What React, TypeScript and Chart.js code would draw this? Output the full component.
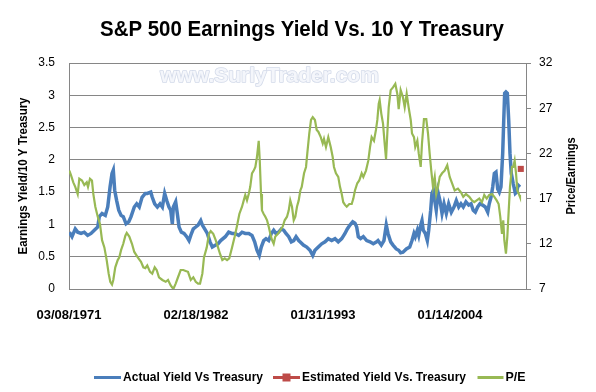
import { useEffect, useRef } from 'react';
import { Chart, registerables } from 'chart.js';

Chart.register(...registerables);

const TITLE = 'S&P 500 Earnings Yield Vs. 10 Y Treasury';
const WATERMARK = 'www.SurlyTrader.com';
const LEFT_TITLE = 'Earnings Yield/10 Y Treasury';
const RIGHT_TITLE = 'Price/Earnings';

const SERIES_NAMES = ['Actual Yield Vs Treasury', 'Estimated Yield Vs. Treasury', 'P/E'];
const SERIES_COLORS = ['#4A7EBB', '#BE4B48', '#98B954'];

const TICK_YEARS = [1971.18, 1982.13, 1993.08, 2004.04];
const TICK_LABELS = ['03/08/1971', '02/18/1982', '01/31/1993', '01/14/2004'];
const X_MIN = 1971.18;
const X_MAX = 2010.59;

const ACTUAL_YEARS = [
  1971.21, 1971.44, 1971.72, 1971.93, 1972.22, 1972.5, 1972.79, 1973.08, 1973.36, 1973.66,
  1973.79, 1974.03, 1974.31, 1974.52, 1974.72, 1974.89, 1975.0, 1975.12, 1975.29, 1975.47,
  1975.67, 1975.86, 1976.1, 1976.33, 1976.53, 1976.81, 1977.02, 1977.24, 1977.48, 1977.76,
  1977.93, 1978.23, 1978.36, 1978.57, 1978.8, 1979.03, 1979.23, 1979.43, 1979.61, 1979.8,
  1979.95, 1980.09, 1980.18, 1980.38, 1980.52, 1980.67, 1980.87, 1981.1, 1981.33, 1981.53,
  1981.68, 1981.9, 1982.11, 1982.31, 1982.54, 1982.68, 1982.88, 1983.11, 1983.34, 1983.54,
  1983.83, 1984.03, 1984.26, 1984.66, 1984.95, 1985.24, 1985.52, 1985.81, 1986.1, 1986.38,
  1986.68, 1986.96, 1987.19, 1987.39, 1987.59, 1987.76, 1987.97, 1988.17, 1988.4, 1988.63,
  1988.83, 1989.03, 1989.26, 1989.49, 1989.7, 1989.89, 1990.13, 1990.35, 1990.56, 1990.76,
  1990.99, 1991.1, 1991.39, 1991.68, 1991.96, 1992.2, 1992.39, 1992.68, 1992.97, 1993.26,
  1993.54, 1993.83, 1994.12, 1994.4, 1994.7, 1994.98, 1995.18, 1995.41, 1995.65, 1995.84,
  1995.99, 1996.13, 1996.33, 1996.56, 1996.85, 1997.14, 1997.42, 1997.71, 1997.83, 1998.11,
  1998.34, 1998.54, 1998.69, 1998.92, 1999.12, 1999.4, 1999.61, 1999.78, 1999.98, 2000.27,
  2000.56, 2000.76, 2000.93, 2001.04, 2001.22, 2001.34, 2001.51, 2001.62, 2001.73, 2001.91,
  2002.08, 2002.2, 2002.37, 2002.48, 2002.6, 2002.72, 2002.85, 2003.0, 2003.17, 2003.35,
  2003.52, 2003.72, 2003.92, 2004.15, 2004.38, 2004.58, 2004.79, 2004.98, 2005.18, 2005.41,
  2005.65, 2005.85, 2006.04, 2006.22, 2006.42, 2006.62, 2006.85, 2007.08, 2007.29, 2007.42,
  2007.57, 2007.72, 2007.86, 2008.0, 2008.15, 2008.29, 2008.43, 2008.58, 2008.67, 2008.75,
  2008.86, 2008.98, 2009.1, 2009.21, 2009.32, 2009.49, 2009.67, 2009.79, 2009.9, 2010.07,
];
const ACTUAL_VALUES = [
  0.88, 0.81, 0.93, 0.88, 0.86, 0.88, 0.83, 0.86, 0.91, 0.96,
  1.12, 1.17, 1.14, 1.27, 1.58, 1.79, 1.84, 1.53, 1.37, 1.22,
  1.14, 1.12, 1.01, 1.04, 1.12, 1.27, 1.32, 1.27, 1.42, 1.48,
  1.48, 1.5, 1.42, 1.32, 1.27, 1.32, 1.27, 1.48, 1.37, 1.27,
  1.22, 1.01, 1.27, 1.35, 1.17, 0.96, 0.88, 0.86, 0.81, 0.75,
  0.83, 0.93, 0.96, 0.99, 1.06, 0.99, 0.93, 0.86, 0.73, 0.65,
  0.68, 0.7, 0.75, 0.81, 0.88, 0.86, 0.86, 0.83, 0.88, 0.86,
  0.86, 0.83, 0.73, 0.6, 0.52, 0.65, 0.75, 0.78, 0.75, 0.86,
  0.91, 0.86, 0.88, 0.93, 0.91, 0.86, 0.81, 0.73, 0.75, 0.81,
  0.75, 0.73, 0.68, 0.65, 0.6, 0.52, 0.6, 0.65, 0.7, 0.73,
  0.78, 0.75, 0.78, 0.73, 0.78, 0.86, 0.93, 0.99, 1.04, 1.02,
  0.96, 0.81, 0.78, 0.81, 0.75, 0.73, 0.7, 0.73, 0.75, 0.68,
  0.75, 0.99, 0.86, 0.73, 0.68, 0.62, 0.6, 0.56, 0.57, 0.62,
  0.65, 0.75, 0.86, 0.81, 0.91, 0.83, 0.99, 1.06, 0.91, 0.86,
  0.75, 0.91, 1.22, 1.48, 1.53, 1.37, 1.22, 1.5, 1.37, 1.17,
  1.32, 1.17, 1.32, 1.19, 1.27, 1.37, 1.27, 1.32, 1.27, 1.35,
  1.3, 1.32, 1.22, 1.19, 1.27, 1.32, 1.3, 1.27, 1.19, 1.32,
  1.42, 1.58, 1.79, 1.81, 1.55, 1.5, 1.58, 2.1, 2.61, 3.03,
  3.05, 3.03, 2.61, 2.1, 1.79, 1.63, 1.48, 1.5, 1.61, 1.58,
];

const ESTIMATED_YEARS = [2010.14];
const ESTIMATED_VALUES = [1.86];

const PE_YEARS = [
  1971.21, 1971.35, 1971.55, 1971.72, 1971.93, 1972.07, 1972.3, 1972.5, 1972.71, 1972.82,
  1972.99, 1973.16, 1973.28, 1973.45, 1973.66, 1973.85, 1974.03, 1974.23, 1974.43, 1974.6,
  1974.74, 1974.89, 1975.0, 1975.17, 1975.38, 1975.52, 1975.67, 1975.86, 1976.04, 1976.16,
  1976.38, 1976.61, 1976.81, 1977.11, 1977.39, 1977.59, 1977.76, 1977.93, 1978.17, 1978.36,
  1978.57, 1978.74, 1978.94, 1979.23, 1979.52, 1979.72, 1979.95, 1980.18, 1980.38, 1980.58,
  1980.81, 1981.04, 1981.24, 1981.44, 1981.68, 1981.9, 1982.11, 1982.31, 1982.48, 1982.68,
  1982.82, 1983.06, 1983.25, 1983.4, 1983.62, 1983.83, 1984.03, 1984.2, 1984.4, 1984.61,
  1984.81, 1985.0, 1985.24, 1985.47, 1985.67, 1985.87, 1986.1, 1986.25, 1986.38, 1986.53,
  1986.68, 1986.81, 1986.96, 1987.11, 1987.25, 1987.39, 1987.54, 1987.63, 1987.74, 1987.82,
  1987.97, 1988.11, 1988.26, 1988.4, 1988.54, 1988.69, 1988.83, 1988.97, 1989.2, 1989.4,
  1989.61, 1989.78, 1989.98, 1990.13, 1990.26, 1990.41, 1990.56, 1990.7, 1990.84, 1990.99,
  1991.13, 1991.25, 1991.45, 1991.62, 1991.73, 1991.9, 1992.05, 1992.2, 1992.39, 1992.54,
  1992.68, 1992.89, 1993.06, 1993.17, 1993.34, 1993.54, 1993.75, 1993.92, 1994.03, 1994.2,
  1994.4, 1994.55, 1994.7, 1994.83, 1994.98, 1995.13, 1995.35, 1995.56, 1995.7, 1995.84,
  1996.04, 1996.21, 1996.42, 1996.56, 1996.79, 1996.99, 1997.14, 1997.28, 1997.48, 1997.65,
  1997.77, 1997.89, 1997.97, 1998.11, 1998.26, 1998.4, 1998.52, 1998.63, 1998.75, 1998.92,
  1999.12, 1999.32, 1999.49, 1999.61, 1999.78, 1999.98, 2000.13, 2000.3, 2000.47, 2000.65,
  2000.76, 2000.93, 2001.04, 2001.22, 2001.34, 2001.51, 2001.62, 2001.79, 2001.99, 2002.14,
  2002.28, 2002.42, 2002.57, 2002.72, 2002.85, 2003.0, 2003.15, 2003.35, 2003.58, 2003.8,
  2004.01, 2004.21, 2004.44, 2004.72, 2004.98, 2005.18, 2005.41, 2005.7, 2005.93, 2006.13,
  2006.34, 2006.56, 2006.79, 2006.99, 2007.2, 2007.42, 2007.66, 2007.86, 2008.06, 2008.23,
  2008.37, 2008.52, 2008.63, 2008.72, 2008.86, 2008.98, 2009.1, 2009.21, 2009.38, 2009.49,
  2009.61, 2009.73, 2009.84, 2010.01, 2010.07,
];
const PE_VALUES = [
  20.1, 19.6, 18.8, 18.3, 17.5, 19.2, 19.0, 18.5, 18.8, 18.3,
  19.2, 19.0, 17.5, 16.1, 15.0, 14.2, 12.4, 11.6, 10.2, 8.7,
  7.8, 7.5, 8.0, 9.4, 10.2, 10.5, 11.3, 12.0, 12.9, 13.2,
  12.8, 12.0, 11.1, 10.5, 10.0, 9.4, 9.3, 9.6, 8.9, 8.7,
  9.4, 9.1, 8.3, 8.0, 7.8, 8.0, 7.4, 7.0, 7.6, 8.3,
  9.1, 9.1, 9.0, 8.9, 8.0, 8.3, 7.8, 7.6, 7.6, 8.7,
  10.5, 11.6, 13.1, 13.4, 13.1, 12.4, 11.6, 10.9, 10.2, 10.4,
  10.2, 10.4, 11.6, 12.8, 14.0, 15.3, 16.1, 16.8, 17.4, 16.8,
  17.5, 18.3, 19.8, 20.1, 20.5, 21.6, 23.4, 21.2, 17.5, 15.7,
  15.3, 15.0, 14.6, 13.9, 13.1, 12.4, 12.0, 12.8, 13.1, 13.5,
  13.9, 14.6, 15.0, 15.7, 16.8, 16.1, 14.6, 15.0, 16.1, 16.8,
  17.9, 18.3, 19.8, 20.5, 22.0, 24.2, 25.7, 26.0, 25.7, 24.6,
  24.4, 23.8, 23.1, 23.6, 22.7, 23.8, 22.7, 21.6, 20.5, 19.8,
  19.4, 18.3, 17.5, 16.6, 16.3, 16.1, 16.4, 16.4, 17.0, 17.9,
  18.7, 19.0, 19.8, 19.4, 20.1, 21.2, 22.7, 23.8, 23.4, 24.6,
  25.7, 27.5, 27.9, 26.4, 25.3, 23.1, 21.4, 24.2, 27.1, 29.0,
  29.3, 29.7, 28.6, 26.9, 29.0, 28.2, 27.1, 28.6, 27.1, 25.7,
  24.2, 23.8, 22.7, 23.4, 22.0, 20.5, 23.1, 25.8, 25.8, 24.2,
  22.0, 20.1, 18.3, 19.4, 17.5, 18.3, 19.4, 19.8, 20.1, 20.7,
  19.4, 18.7, 17.9, 18.1, 17.7, 17.2, 17.5, 17.2, 16.8, 16.6,
  16.8, 17.0, 16.6, 17.4, 17.0, 17.4, 17.5, 17.2, 16.8, 16.4,
  15.0, 13.1, 14.6, 12.4, 10.9, 12.8, 15.7, 18.3, 20.5, 20.5,
  21.2, 19.8, 17.9, 17.4, 17.2,
];

const LEFT_MIN = 0;
const LEFT_MAX = 3.5;
const LEFT_STEP = 0.5;
const RIGHT_MIN = 7;
const RIGHT_MAX = 32;
const RIGHT_STEP = 5;

const FONT = '"Liberation Sans", Arial, sans-serif';
const AXIS_GRAY = '#868686';

const toPoints = (xs: number[], ys: number[]) => xs.map((x, i) => ({ x, y: ys[i] }));

const overlayPlugin = {
  id: 'overlay',
  beforeDatasetsDraw(chart: any) {
    const { ctx, chartArea } = chart;
    ctx.save();
    ctx.font = `bold 21px ${FONT}`;
    ctx.textAlign = 'center';
    ctx.textBaseline = 'alphabetic';
    ctx.lineJoin = 'round';
    ctx.lineWidth = 1.6;
    ctx.strokeStyle = '#d3dae9';
    ctx.fillStyle = '#f4f6fb';
    const wx = chartArea.left + 200.5;
    const wy = chartArea.top + 19;
    ctx.strokeText(WATERMARK, wx, wy, 225);
    ctx.fillText(WATERMARK, wx, wy, 225);
    ctx.restore();
  },
  afterDraw(chart: any) {
    const { ctx, chartArea } = chart;
    ctx.save();
    ctx.fillStyle = '#000000';
    // title
    ctx.font = `bold 22px ${FONT}`;
    ctx.textAlign = 'center';
    ctx.textBaseline = 'alphabetic';
    ctx.fillText(TITLE, 302, 36, 404);

    // axis titles
    const midY = (chartArea.top + chartArea.bottom) / 2;
    ctx.font = `bold 12px ${FONT}`;
    ctx.textBaseline = 'middle';
    ctx.save();
    ctx.translate(24, midY);
    ctx.rotate(-Math.PI / 2);
    ctx.fillText(LEFT_TITLE, 0, 0, 157);
    ctx.restore();
    ctx.save();
    ctx.translate(572, midY);
    ctx.rotate(-Math.PI / 2);
    ctx.fillText(RIGHT_TITLE, 0, 0, 77);
    ctx.restore();

    // legend
    const ly = 377.5;
    const items = [
      { x: 94, w: 27, tw: 140, marker: false },
      { x: 273, w: 27, tw: 164, marker: true },
      { x: 477.5, w: 26, tw: 20, marker: false },
    ];
    ctx.font = `bold 13px ${FONT}`;
    ctx.textAlign = 'left';
    ctx.textBaseline = 'middle';
    items.forEach((it, i) => {
      ctx.strokeStyle = SERIES_COLORS[i];
      ctx.lineWidth = 3;
      ctx.beginPath();
      ctx.moveTo(it.x, ly);
      ctx.lineTo(it.x + it.w, ly);
      ctx.stroke();
      if (it.marker) {
        ctx.fillStyle = SERIES_COLORS[i];
        ctx.fillRect(it.x + it.w / 2 - 4, ly - 4, 8, 8);
      }
      ctx.fillStyle = '#000000';
      ctx.fillText(SERIES_NAMES[i], it.x + it.w + 2, ly, it.tw);
    });
    ctx.restore();
  },
};

export default function App() {
  const canvasRef = useRef<HTMLCanvasElement | null>(null);

  useEffect(() => {
    if (!canvasRef.current) return;
    const chart = new Chart(canvasRef.current, {
      type: 'line',
      data: {
        datasets: [
          {
            label: SERIES_NAMES[0],
            data: toPoints(ACTUAL_YEARS, ACTUAL_VALUES),
            borderColor: SERIES_COLORS[0],
            backgroundColor: SERIES_COLORS[0],
            borderWidth: 3.5,
            pointRadius: 0,
            yAxisID: 'y',
            order: 2,
          },
          {
            label: SERIES_NAMES[1],
            data: toPoints(ESTIMATED_YEARS, ESTIMATED_VALUES),
            borderColor: SERIES_COLORS[1],
            backgroundColor: SERIES_COLORS[1],
            borderWidth: 0,
            pointStyle: 'rect',
            pointRadius: 4.3,
            pointBorderWidth: 0,
            showLine: false,
            yAxisID: 'y',
            order: 0,
          },
          {
            label: SERIES_NAMES[2],
            data: toPoints(PE_YEARS, PE_VALUES),
            borderColor: SERIES_COLORS[2],
            backgroundColor: SERIES_COLORS[2],
            borderWidth: 2.2,
            pointRadius: 0,
            yAxisID: 'y1',
            order: 1,
          },
        ],
      },
      options: {
        animation: false,
        responsive: false,
        devicePixelRatio: 1,
        layout: { padding: { top: 63, left: 0, right: 0, bottom: 0 } },
        plugins: {
          legend: { display: false },
          tooltip: { enabled: false },
          title: { display: false },
        },
        scales: {
          x: {
            type: 'linear',
            min: X_MIN,
            max: X_MAX,
            afterBuildTicks: (scale: any) => {
              scale.ticks = TICK_YEARS.map((v) => ({ value: v }));
            },
            afterFit: (scale: any) => {
              scale.height = 103;
            },
            grid: { display: false, drawTicks: false },
            border: { display: true, color: AXIS_GRAY },
            ticks: {
              autoSkip: false,
              maxRotation: 0,
              padding: 19,
              color: '#000000',
              font: { family: FONT, size: 13, weight: 'bold' },
              callback: (_v: any, i: number) => TICK_LABELS[i],
            },
          },
          y: {
            position: 'left',
            min: LEFT_MIN,
            max: LEFT_MAX,
            afterFit: (scale: any) => {
              scale.width = 69;
            },
            grid: { color: AXIS_GRAY, drawTicks: false },
            border: { display: true, color: AXIS_GRAY },
            ticks: {
              stepSize: LEFT_STEP,
              padding: 14,
              color: '#000000',
              font: { family: FONT, size: 12 },
              callback: (v: any) => `${Number(v)}`,
            },
          },
          y1: {
            position: 'right',
            min: RIGHT_MIN,
            max: RIGHT_MAX,
            afterFit: (scale: any) => {
              scale.width = 70;
            },
            grid: { drawOnChartArea: false, drawTicks: true, tickLength: 5, color: AXIS_GRAY },
            border: { display: true, color: AXIS_GRAY },
            ticks: {
              stepSize: RIGHT_STEP,
              padding: 8,
              color: '#000000',
              font: { family: FONT, size: 12 },
              callback: (v: any) => `${Number(v)}`,
            },
          },
        },
      },
      plugins: [overlayPlugin],
    });
    return () => chart.destroy();
  }, []);

  return (
    <div style={{ position: 'absolute', left: 0, top: 0, width: 596, height: 392, background: '#ffffff' }}>
      <canvas ref={canvasRef} width={596} height={392} />
    </div>
  );
}
